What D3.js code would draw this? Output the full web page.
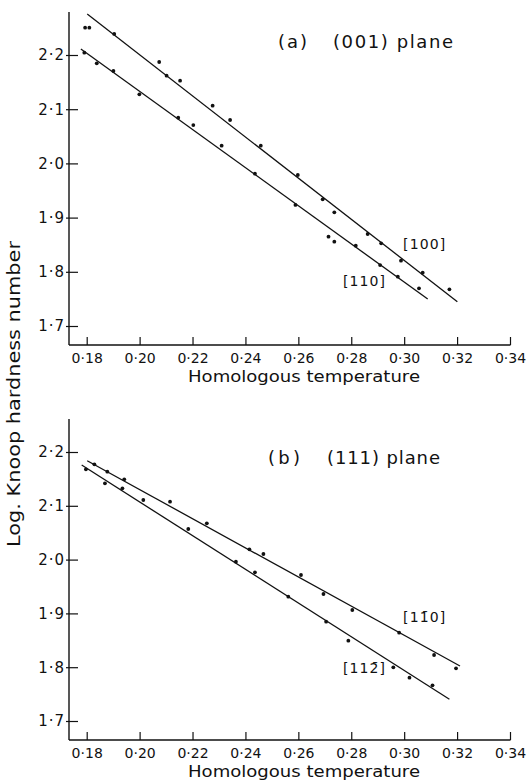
<!DOCTYPE html>
<html><head><meta charset="utf-8">
<script src="https://cdn.jsdelivr.net/npm/d3@7"></script>
<style>
body{margin:0;background:#fff;}
svg{display:block;}
text{font-family:"DejaVu Sans",sans-serif;fill:#111;}
</style></head>
<body>
<svg id="c" width="530" height="784"></svg>
<script>
// ---- data ----
const xTicks = [0.18,0.20,0.22,0.24,0.26,0.28,0.30,0.32,0.34];
const yTicks = [1.7,1.8,1.9,2.0,2.1,2.2];
const panelTags = ["(a)", "(b)"];
const panelPlanes = ["(001) plane", "(111) plane"];
const seriesNames = [["[100]","[110]"],["[11\u03040]","[112\u0304]"]];

const a100 = [[0.1794,2.2504],[0.1810,2.2504],[0.1904,2.2388],[0.2074,2.1871],[0.2102,2.1618],[0.2153,2.1526],[0.2276,2.1065],[0.2342,2.0801],[0.2458,2.0327],[0.2598,1.9786],[0.2692,1.9338],[0.2736,1.9098],[0.2862,1.8697],[0.2913,1.8526],[0.2988,1.8205],[0.3070,1.7983],[0.3171,1.7677]];
const a110 = [[0.1791,2.2042],[0.1838,2.1847],[0.1901,2.1705],[0.1999,2.1275],[0.2146,2.0843],[0.2203,2.0708],[0.2310,2.0327],[0.2436,1.9810],[0.2589,1.9233],[0.2714,1.8648],[0.2736,1.8556],[0.2817,1.8482],[0.2909,1.8125],[0.2976,1.7910],[0.3056,1.7695]];
const b110 = [[0.1829,2.1771],[0.1878,2.1634],[0.1942,2.1493],[0.2115,2.1076],[0.2254,2.0675],[0.2415,2.0191],[0.2468,2.0104],[0.2610,1.9714],[0.2695,1.9361],[0.2804,1.9063],[0.2981,1.8641],[0.3113,1.8227],[0.3196,1.7980]];
const b112 = [[0.1797,2.1678],[0.1869,2.1418],[0.1935,2.1325],[0.2014,2.1108],[0.2184,2.0569],[0.2364,1.9961],[0.2436,1.9764],[0.2562,1.9311],[0.2705,1.8846],[0.2789,1.8493],[0.2959,1.7998],[0.3020,1.7805],[0.3107,1.7664]];

// fitted lines: [x1,y1,x2,y2]
const fitA100 = [0.1802,2.2756,0.3201,1.7448];
const fitA110 = [0.1778,2.2111,0.3089,1.7498];
const fitB110 = [0.1802,2.1838,0.3211,1.8022];
const fitB112 = [0.1781,2.1758,0.3171,1.7403];

const labelPosA = [[0.2996,1.8420],[0.2769,1.7740]];
const labelPosB = [[0.2996,1.8840],[0.2769,1.7890]];

// ---- drawing ----
const svg = d3.select("#c");
const fmt = v => d3.format(".1f")(v).replace(".", "\u00b7");
const fmtx = v => d3.format(".2f")(v).replace(".", "\u00b7");

function panel(cfg){
  const g = svg.append("g");
  const x = d3.scaleLinear().domain([0.18,0.34]).range([86.7,510]);
  const y = d3.scaleLinear().domain([1.7,2.2]).range([cfg.y17, cfg.y22]);
  const axX = 69;
  g.append("line").attr("x1",axX).attr("x2",axX).attr("y1",cfg.top).attr("y2",cfg.base)
    .attr("stroke","#111").attr("stroke-width",1.4);
  g.append("line").attr("x1",axX).attr("x2",510.5).attr("y1",cfg.base).attr("y2",cfg.base)
    .attr("stroke","#111").attr("stroke-width",1.3);

  const ya = g.append("g").attr("transform",`translate(${axX},0)`)
    .call(d3.axisLeft(y).tickValues(yTicks).tickFormat(fmt).tickSizeInner(-9).tickSizeOuter(0).tickPadding(5));
  ya.select(".domain").remove();
  ya.selectAll(".tick line").attr("stroke","#111").attr("stroke-width",1.2).attr("x1",-3);
  ya.selectAll(".tick text").attr("font-size",15).attr("font-family","DejaVu Sans").attr("fill","#111")
    .attr("x",-4).attr("letter-spacing",1);

  const xa = g.append("g").attr("transform",`translate(0,${cfg.base})`)
    .call(d3.axisBottom(x).tickValues(xTicks).tickFormat(fmtx).tickSizeInner(-8).tickSizeOuter(0).tickPadding(6));
  xa.select(".domain").remove();
  xa.selectAll(".tick line").attr("stroke","#111").attr("stroke-width",1.2);
  xa.selectAll(".tick text").attr("font-size",14).attr("font-family","DejaVu Sans").attr("fill","#111").attr("y",8);

  g.append("text").attr("x",304).attr("y",cfg.base+37).attr("text-anchor","middle")
    .attr("font-size",16).attr("textLength",232).attr("lengthAdjust","spacingAndGlyphs")
    .text("Homologous temperature");

  g.append("text").attr("x",cfg.tagX).attr("y",cfg.titleY).attr("font-size",18)
    .attr("textLength",cfg.tagW).attr("lengthAdjust","spacing").text(cfg.tag);
  g.append("text").attr("x",cfg.planeX).attr("y",cfg.titleY).attr("font-size",18)
    .attr("textLength",cfg.planeW).attr("lengthAdjust","spacing").text(cfg.plane);

  cfg.fits.forEach(f=>{
    g.append("line").attr("x1",x(f[0])).attr("y1",y(f[1])).attr("x2",x(f[2])).attr("y2",y(f[3]))
      .attr("stroke","#111").attr("stroke-width",1.3);
  });
  cfg.series.forEach(s=>{
    g.selectAll(null).data(s).enter().append("circle")
      .attr("cx",d=>x(d[0])).attr("cy",d=>y(d[1])).attr("r",1.9).attr("fill","#111");
  });
  cfg.names.forEach((n,i)=>{
    g.append("text").attr("x",x(cfg.labelPos[i][0])).attr("y",y(cfg.labelPos[i][1]))
      .attr("font-size",14).attr("textLength",42).attr("lengthAdjust","spacing").text(n);
  });
}

panel({top:12, base:345, y17:326, y22:55, tag:panelTags[0], plane:panelPlanes[0],
  tagX:278, tagW:29, planeX:333, planeW:120, titleY:48,
  fits:[fitA100,fitA110], series:[a100,a110], names:seriesNames[0], labelPos:labelPosA});
panel({top:419, base:740, y17:721, y22:452, tag:panelTags[1], plane:panelPlanes[1],
  tagX:268, tagW:32, planeX:327, planeW:113, titleY:464,
  fits:[fitB110,fitB112], series:[b110,b112], names:seriesNames[1], labelPos:labelPosB});

svg.append("text").attr("transform","translate(20,394) rotate(-90)").attr("text-anchor","middle")
  .attr("font-size",17).attr("textLength",306).attr("lengthAdjust","spacingAndGlyphs")
  .text("Log. Knoop hardness number");
</script>
</body></html>
